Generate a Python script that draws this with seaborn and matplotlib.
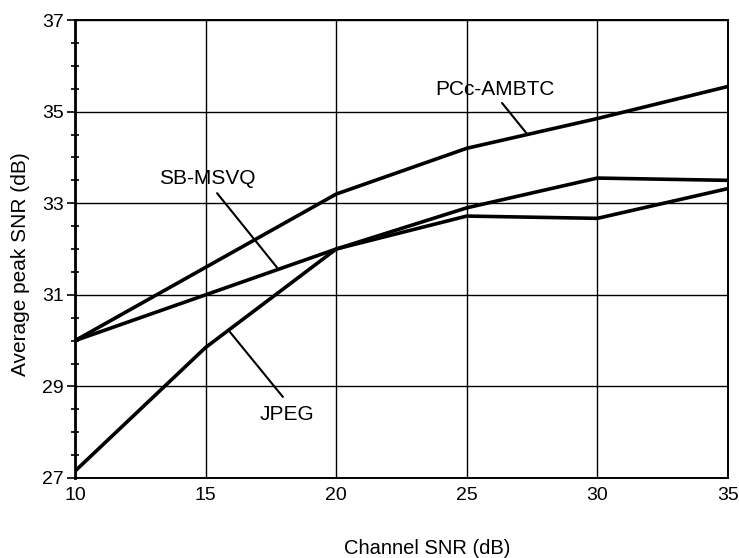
import pandas as pd
import matplotlib.pyplot as plt
import seaborn as sns
from matplotlib.ticker import MultipleLocator

# Datos
channel_snr = [10, 15, 20, 25, 30, 35]
pcc_ambtc = [30.0, 31.6, 33.2, 34.2, 34.85, 35.55]
sb_msvq = [30.0, 31.0, 32.0, 32.9, 33.55, 33.5]
jpeg = [27.15, 29.85, 32.0, 32.72, 32.67, 33.32]

series = {'PCc-AMBTC': pcc_ambtc, 'SB-MSVQ': sb_msvq, 'JPEG': jpeg}
df = pd.concat([pd.DataFrame({'snr': channel_snr, 'psnr': v, 'metodo': k})
                for k, v in series.items()], ignore_index=True)

sns.set_style('white')
plt.rcParams['font.family'] = ['Liberation Sans', 'DejaVu Sans']
plt.rcParams['text.color'] = 'black'
plt.rcParams['axes.labelcolor'] = 'black'

fig = plt.figure(figsize=(7.39, 5.58), dpi=100)
ax = fig.add_axes([0.1015, 0.1434, 0.8835, 0.8206])

sns.lineplot(data=df, x='snr', y='psnr', hue='metodo', ax=ax,
             palette=['black', 'black', 'black'], linewidth=2.6, legend=False)

ax.set_xlim(10, 35)
ax.set_ylim(27, 37)
ax.set_xticks(channel_snr)
ax.set_yticks([27, 29, 31, 33, 35, 37])
ax.yaxis.set_minor_locator(MultipleLocator(0.5))
ax.grid(True, which='major', color='black', linewidth=1.0)
for s in ax.spines.values():
    s.set_color('black')
    s.set_linewidth(1.4)
ax.spines['left'].set_linewidth(2.0)
ax.tick_params(axis='y', which='major', direction='out', left=True, length=6,
               width=1.2, colors='black', labelsize=14, pad=2)
ax.tick_params(axis='y', which='minor', direction='inout', left=True, length=6,
               width=1.2, colors='black')
ax.tick_params(axis='x', which='major', bottom=False, labelsize=14, pad=3,
               colors='black')

# Etiquetas con sus líneas indicadoras
conectores = [((26.35, 35.19), (27.3, 34.52)),
              ((15.44, 33.22), (17.73, 31.6)),
              ((17.96, 28.77), (15.93, 30.19))]
for ini, fin in conectores:
    ax.annotate('', xy=fin, xytext=ini,
                arrowprops=dict(arrowstyle='-', color='black', lw=1.5,
                                shrinkA=0, shrinkB=0))
ax.text(26.08, 35.49, 'PCc-AMBTC', fontsize=15, ha='center', va='center')
ax.text(15.05, 33.55, 'SB-MSVQ', fontsize=15, ha='center', va='center')
ax.text(18.1, 28.38, 'JPEG', fontsize=15, ha='center', va='center')

ax.set_xlabel('Channel SNR (dB)', fontsize=14.5)
ax.set_ylabel('Average peak SNR (dB)', fontsize=15)
ax.xaxis.set_label_coords(0.539, -0.133)
ax.yaxis.set_label_coords(-0.069, 0.467)

plt.savefig('out.png', dpi=100)
